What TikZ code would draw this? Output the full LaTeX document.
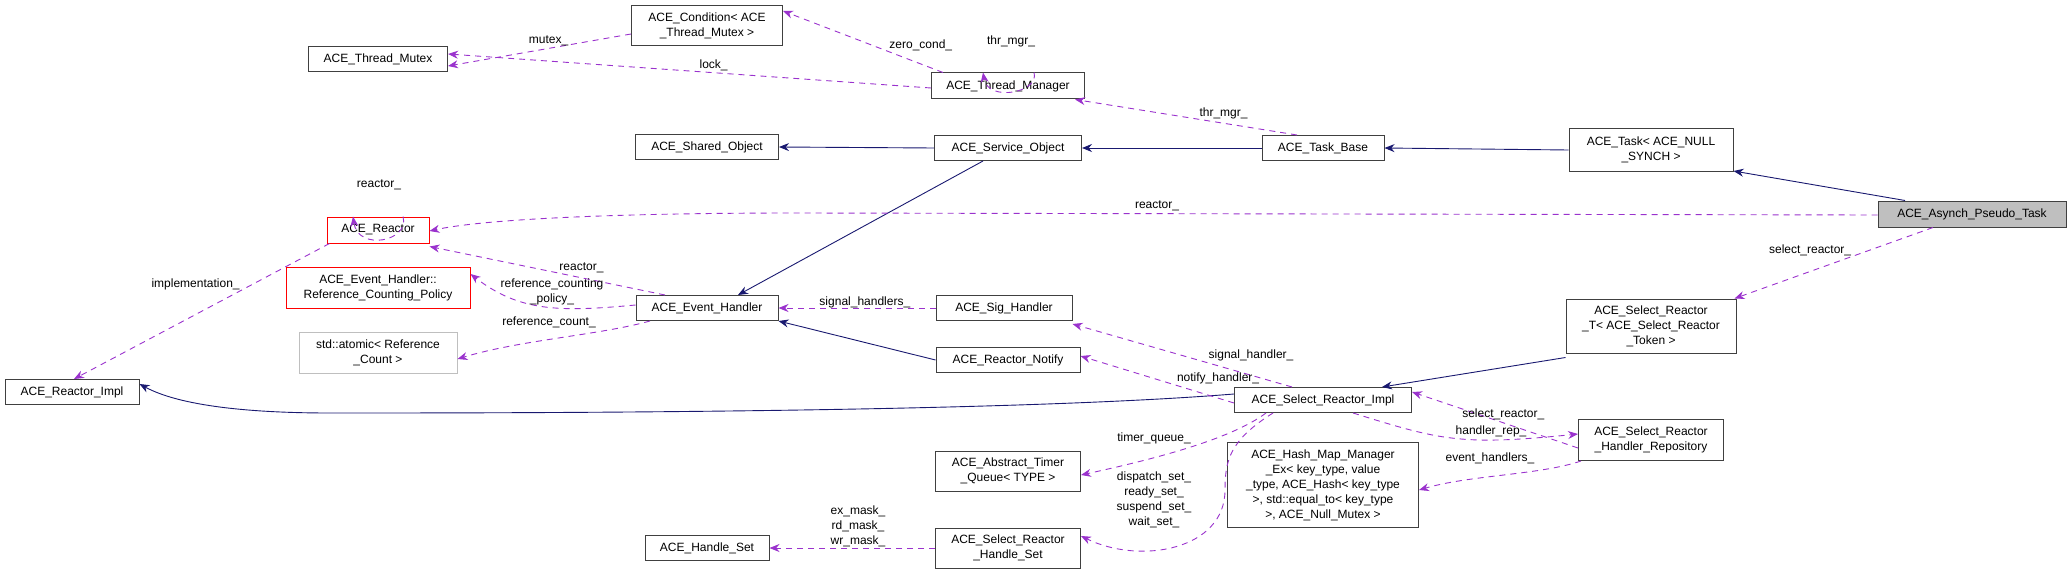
\documentclass[tikz,border=0pt]{standalone}
\usepackage{fontspec}
\setmainfont{Liberation Sans}
\usetikzlibrary{arrows.meta}
\definecolor{pur}{HTML}{9A32CD}
\definecolor{nav}{HTML}{191970}
\begin{document}
\begin{tikzpicture}[x=1pt,y=-1pt,
 box/.style={draw=black!75,line width=1pt,fill=white,inner sep=0pt,align=center,font=\fontsize{12}{15}\selectfont},
 rbox/.style={box,draw=red},
 gbox/.style={box,draw=black!25},
 dep/.style={draw=pur,line width=0.9pt,dash pattern=on 6pt off 5pt,-{Stealth[length=10pt,width=8pt,fill=pur]}},
 inh/.style={draw=nav,line width=0.9pt,-{Stealth[length=10pt,width=8pt,fill=nav]}},
 lab/.style={font=\fontsize{12}{15}\selectfont,align=center,inner sep=0pt}]
\useasboundingbox (0,0) rectangle (2071,575);
% nodes
\node[box,minimum width=139,minimum height=25] (tm) at (378,59) {ACE\_Thread\_Mutex};
\node[box,minimum width=151,minimum height=40] (cond) at (707,26) {ACE\_Condition< ACE\\\_Thread\_Mutex >};
\node[box,minimum width=153,minimum height=26] (tmgr) at (1008,86) {ACE\_Thread\_Manager};
\node[box,minimum width=143,minimum height=25] (so) at (707,147) {ACE\_Shared\_Object};
\node[box,minimum width=147,minimum height=25] (svc) at (1008,148) {ACE\_Service\_Object};
\node[box,minimum width=122,minimum height=25] (tb) at (1323,148) {ACE\_Task\_Base};
\node[box,minimum width=164,minimum height=42] (task) at (1651,150) {ACE\_Task< ACE\_NULL\\\_SYNCH >};
\node[box,fill=black!25,minimum width=188,minimum height=26] (apt) at (1972,214) {ACE\_Asynch\_Pseudo\_Task};
\node[rbox,minimum width=102,minimum height=26] (rea) at (378,230) {ACE\_Reactor};
\node[rbox,minimum width=184,minimum height=41] (rcp) at (378,288) {ACE\_Event\_Handler::\\Reference\_Counting\_Policy};
\node[gbox,minimum width=158,minimum height=41] (atom) at (378,353) {std::atomic< Reference\\\_Count >};
\node[box,minimum width=134,minimum height=25] (ri) at (72,392) {ACE\_Reactor\_Impl};
\node[box,minimum width=142,minimum height=25] (eh) at (707,308) {ACE\_Event\_Handler};
\node[box,minimum width=136,minimum height=25] (sig) at (1004,308) {ACE\_Sig\_Handler};
\node[box,minimum width=144,minimum height=25] (rn) at (1008,360) {ACE\_Reactor\_Notify};
\node[box,minimum width=145,minimum height=40] (atq) at (1008,471) {ACE\_Abstract\_Timer\\\_Queue< TYPE >};
\node[box,minimum width=145,minimum height=40] (srhs) at (1008,548) {ACE\_Select\_Reactor\\\_Handle\_Set};
\node[box,minimum width=124,minimum height=25] (hs) at (707,548) {ACE\_Handle\_Set};
\node[box,minimum width=177,minimum height=25] (sri) at (1323,400) {ACE\_Select\_Reactor\_Impl};
\node[box,minimum width=170,minimum height=54] (srt) at (1651,326) {ACE\_Select\_Reactor\\\_T< ACE\_Select\_Reactor\\\_Token >};
\node[box,minimum width=145,minimum height=41] (rep) at (1651,440) {ACE\_Select\_Reactor\\\_Handler\_Repository};
\node[box,minimum width=191,minimum height=85] (hm) at (1323,485) {ACE\_Hash\_Map\_Manager\\\_Ex< key\_type, value\\\_type, ACE\_Hash< key\_type\\>, std::equal\_to< key\_type\\>, ACE\_Null\_Mutex >};
% inheritance
\draw[inh] (svc.west) -- (so.east);
\draw[inh] (tb.west) -- (svc.east);
\draw[inh] (task.west) -- (tb.east);
\draw[inh] ([xshift=-67]apt.north) -- ([yshift=-21]task.east);
\draw[inh] ([xshift=-25]svc.south) -- ([xshift=31]eh.north);
\draw[inh] (rn.west) -- (eh.south east);
\draw[inh] ([yshift=-4]srt.south west) -- ([xshift=59]sri.north);
\draw[inh] ([yshift=6]sri.west) .. controls (1000,413) and (500,413) .. (330,413) .. controls (250,413) and (180,406) .. ([yshift=8]ri.east);
% dependencies
\draw[dep] ([yshift=-8]cond.west) -- node[lab,above,pos=0.45,yshift=2]{mutex\_} ([yshift=-7]tm.east);
\draw[dep] ([yshift=-2]tmgr.west) -- node[lab,above,pos=0.45,yshift=1]{lock\_} ([yshift=5]tm.east);
\draw[dep] ([xshift=-65]tmgr.north) -- node[lab,above right,pos=0.35,xshift=2]{zero\_cond\_} ([yshift=15]cond.east);
\draw[dep] ([xshift=26]tmgr.north) .. controls ([xshift=32,yshift=-20]tmgr.north) and ([xshift=-20,yshift=-30]tmgr.north) .. ([xshift=-25]tmgr.north);
\node[lab] (l1) at (1011,41) {thr\_mgr\_};
\draw[dep] ([xshift=-26]tb.north) -- node[lab,above right,pos=0.45,xshift=2]{thr\_mgr\_} ([xshift=-10]tmgr.south east);
\draw[dep] ([yshift=-1]apt.west) -- (800,213) .. controls (600,213) and (480,220) .. ([yshift=-1]rea.east);
\node[lab] (l2) at (1157,206) {reactor\_};
\draw[dep] ([xshift=-39]apt.south) -- node[lab,above left,pos=0.4,xshift=-2]{select\_reactor\_} ([xshift=-2]srt.north east);
\draw[dep] ([xshift=25]rea.north) .. controls ([xshift=32,yshift=-25]rea.north) and ([xshift=-20,yshift=-35]rea.north) .. ([xshift=-25]rea.north);
\node[lab] (l3) at (379,185) {reactor\_};
\draw[dep] ([xshift=3]rea.south west) -- node[lab,above left,pos=0.35]{implementation\_} ([xshift=2]ri.north);
\draw[dep] ([xshift=-42]eh.north) -- node[lab,above right,pos=0.45]{reactor\_} ([yshift=-3]rea.south east);
\draw[dep] ([yshift=3]eh.west) .. controls (560,312) and (520,312) .. ([yshift=14]rcp.east);
\node[lab] (l4) at (552,292) {reference\_counting\\\_policy\_};
\draw[dep] ([xshift=-57]eh.south) .. controls (600,335) and (520,340) .. ([yshift=-6]atom.east);
\node[lab] (l5) at (549,322) {reference\_count\_};
\draw[dep] (sig.west) -- node[lab,above,pos=0.45]{signal\_handlers\_} (eh.east);
\draw[dep] ([xshift=-31]sri.north) -- node[lab,above right,pos=0.4,xshift=4]{signal\_handler\_} ([yshift=-3]sig.south east);
\draw[dep] ([yshift=-3]sri.west) -- node[lab,above right,pos=0.4,xshift=4]{notify\_handler\_} ([yshift=4]rn.east);
\draw[dep] ([xshift=-57]sri.south) .. controls (1230,440) and (1150,460) .. ([yshift=-4]atq.east);
\node[lab] (l6) at (1154,438) {timer\_queue\_};
\draw[dep] ([xshift=-50]sri.south) .. controls (1230,440) and (1225,460) .. (1225,490) .. controls (1225,550) and (1140,565) .. ([yshift=12]srhs.east);
\node[lab] (l7) at (1154,500) {dispatch\_set\_\\ready\_set\_\\suspend\_set\_\\wait\_set\_};
\draw[dep] (srhs.west) -- (hs.east);
\node[lab] (l8) at (858,526) {ex\_mask\_\\rd\_mask\_\\wr\_mask\_};
\draw[dep] ([yshift=-8]rep.west) -- node[lab,above,pos=0.45,yshift=2]{select\_reactor\_} ([yshift=8]sri.east);
\draw[dep] ([xshift=30]sri.south) .. controls (1440,440) and (1460,446) .. ([yshift=6]rep.west);
\node[lab] (l9) at (1491,431) {handler\_rep\_};
\draw[dep] ([xshift=3]rep.south west) .. controls (1540,475) and (1470,475) .. ([yshift=-5]hm.east);
\node[lab] (l10) at (1490,458) {event\_handlers\_};
\end{tikzpicture}
\end{document}
